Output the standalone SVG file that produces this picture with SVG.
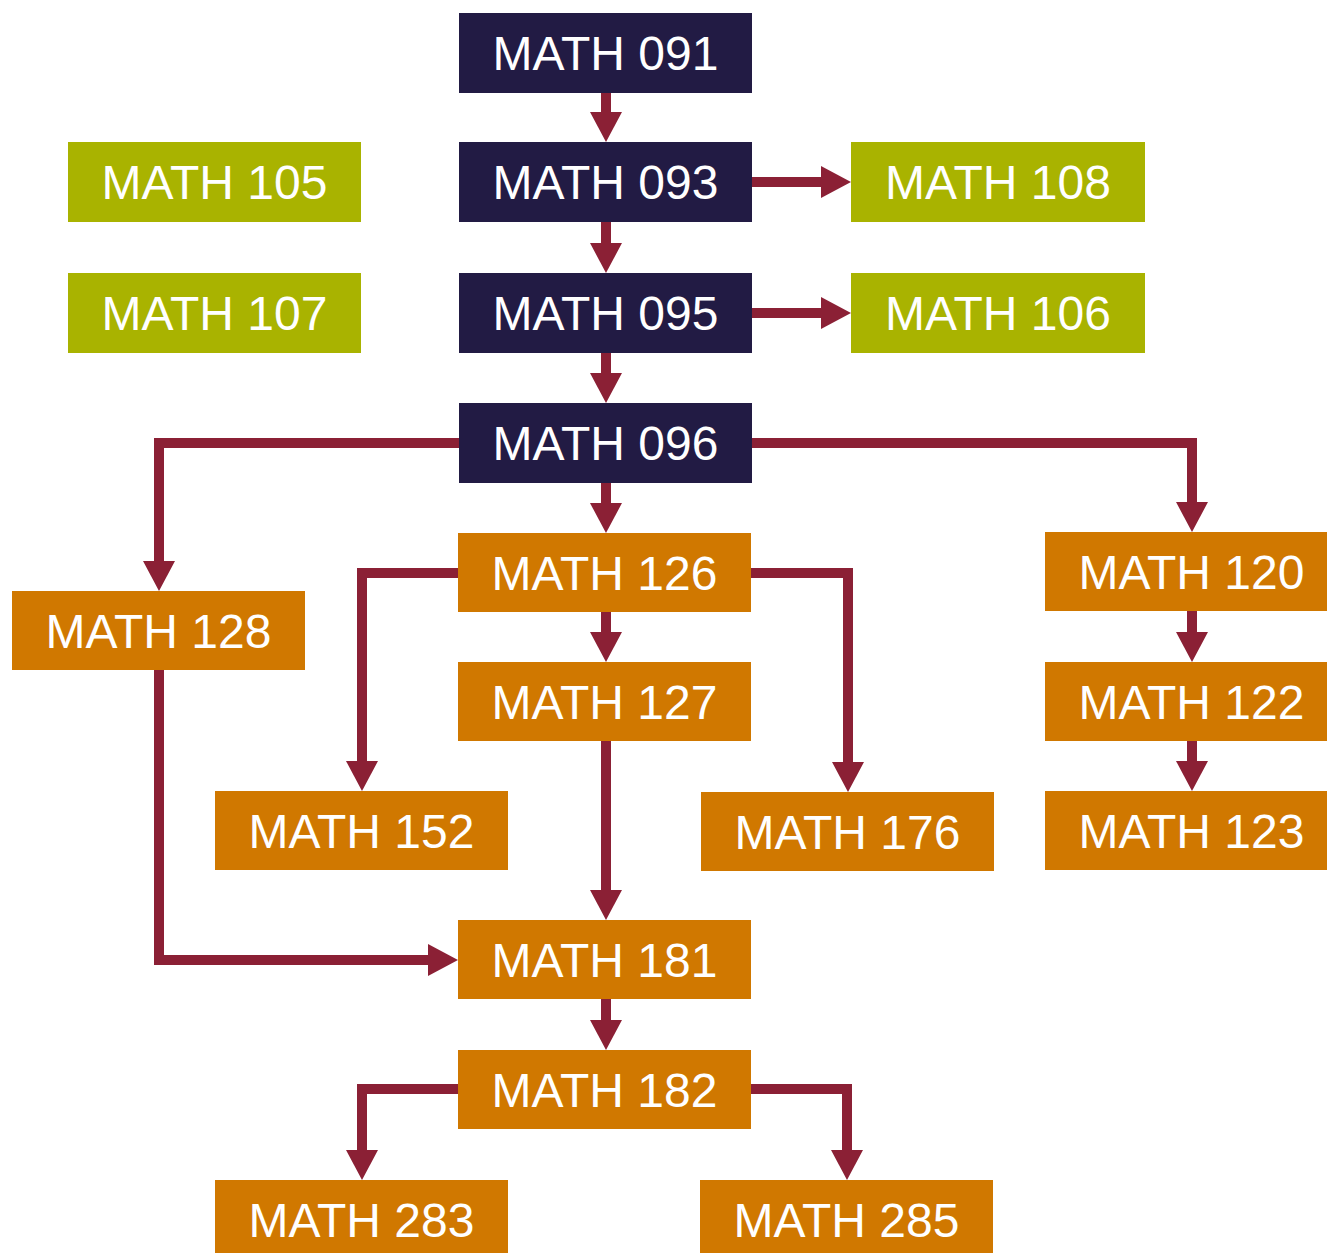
<svg xmlns="http://www.w3.org/2000/svg" width="1327" height="1253" viewBox="0 0 1327 1253">
<style>
.n rect{stroke:none}
.navy rect{fill:#221b44}
.green rect{fill:#a9b300}
.orange rect{fill:#d07800}
.n text{fill:#ffffff;font-family:"Liberation Sans",Arial,sans-serif;font-size:48px;text-anchor:middle}
.c path{fill:none;stroke:#8b2035;stroke-width:10;stroke-linejoin:miter;marker-end:url(#ah)}
</style>
<defs>
<marker id="ah" markerUnits="userSpaceOnUse" viewBox="0 -16 30 32" refX="0" refY="0" markerWidth="30" markerHeight="32" orient="auto" overflow="visible">
<path d="M0,-16 L30,0 L0,16 z" fill="#8b2035"/>
</marker>
</defs>
<rect width="1327" height="1253" fill="#ffffff"/>
<g id="connectors" class="c">
<path d="M606,93 V112"/>
<path d="M752,182 H821"/>
<path d="M606,221 V243"/>
<path d="M752,313 H821"/>
<path d="M606,352 V373"/>
<path d="M459,443 H159 V561"/>
<path d="M606,482 V503"/>
<path d="M752,443 H1192 V502"/>
<path d="M458,573 H362 V761"/>
<path d="M751,573 H848 V762"/>
<path d="M606,612 V632"/>
<path d="M606,741 V890"/>
<path d="M159,670 V960 H428"/>
<path d="M1192,611 V632"/>
<path d="M1192,741 V761"/>
<path d="M606,999 V1020"/>
<path d="M458,1089 H362 V1150"/>
<path d="M751,1089 H847 V1150"/>
</g>
<g id="math091" class="n navy"><rect x="459" y="13" width="293" height="80"/><text x="605.5" y="70">MATH 091</text></g>
<g id="math093" class="n navy"><rect x="459" y="142" width="293" height="80"/><text x="605.5" y="199">MATH 093</text></g>
<g id="math105" class="n green"><rect x="68" y="142" width="293" height="80"/><text x="214.5" y="199">MATH 105</text></g>
<g id="math108" class="n green"><rect x="851" y="142" width="294" height="80"/><text x="998" y="199">MATH 108</text></g>
<g id="math107" class="n green"><rect x="68" y="273" width="293" height="80"/><text x="214.5" y="330">MATH 107</text></g>
<g id="math095" class="n navy"><rect x="459" y="273" width="293" height="80"/><text x="605.5" y="330">MATH 095</text></g>
<g id="math106" class="n green"><rect x="851" y="273" width="294" height="80"/><text x="998" y="330">MATH 106</text></g>
<g id="math096" class="n navy"><rect x="459" y="403" width="293" height="80"/><text x="605.5" y="460">MATH 096</text></g>
<g id="math126" class="n orange"><rect x="458" y="533" width="293" height="79"/><text x="604.5" y="590">MATH 126</text></g>
<g id="math120" class="n orange"><rect x="1045" y="532" width="293" height="79"/><text x="1191.5" y="589">MATH 120</text></g>
<g id="math128" class="n orange"><rect x="12" y="591" width="293" height="79"/><text x="158.5" y="648">MATH 128</text></g>
<g id="math127" class="n orange"><rect x="458" y="662" width="293" height="79"/><text x="604.5" y="719">MATH 127</text></g>
<g id="math122" class="n orange"><rect x="1045" y="662" width="293" height="79"/><text x="1191.5" y="719">MATH 122</text></g>
<g id="math152" class="n orange"><rect x="215" y="791" width="293" height="79"/><text x="361.5" y="848">MATH 152</text></g>
<g id="math176" class="n orange"><rect x="701" y="792" width="293" height="79"/><text x="847.5" y="849">MATH 176</text></g>
<g id="math123" class="n orange"><rect x="1045" y="791" width="293" height="79"/><text x="1191.5" y="848">MATH 123</text></g>
<g id="math181" class="n orange"><rect x="458" y="920" width="293" height="79"/><text x="604.5" y="977">MATH 181</text></g>
<g id="math182" class="n orange"><rect x="458" y="1050" width="293" height="79"/><text x="604.5" y="1107">MATH 182</text></g>
<g id="math283" class="n orange"><rect x="215" y="1180" width="293" height="79"/><text x="361.5" y="1237">MATH 283</text></g>
<g id="math285" class="n orange"><rect x="700" y="1180" width="293" height="79"/><text x="846.5" y="1237">MATH 285</text></g>
</svg>
